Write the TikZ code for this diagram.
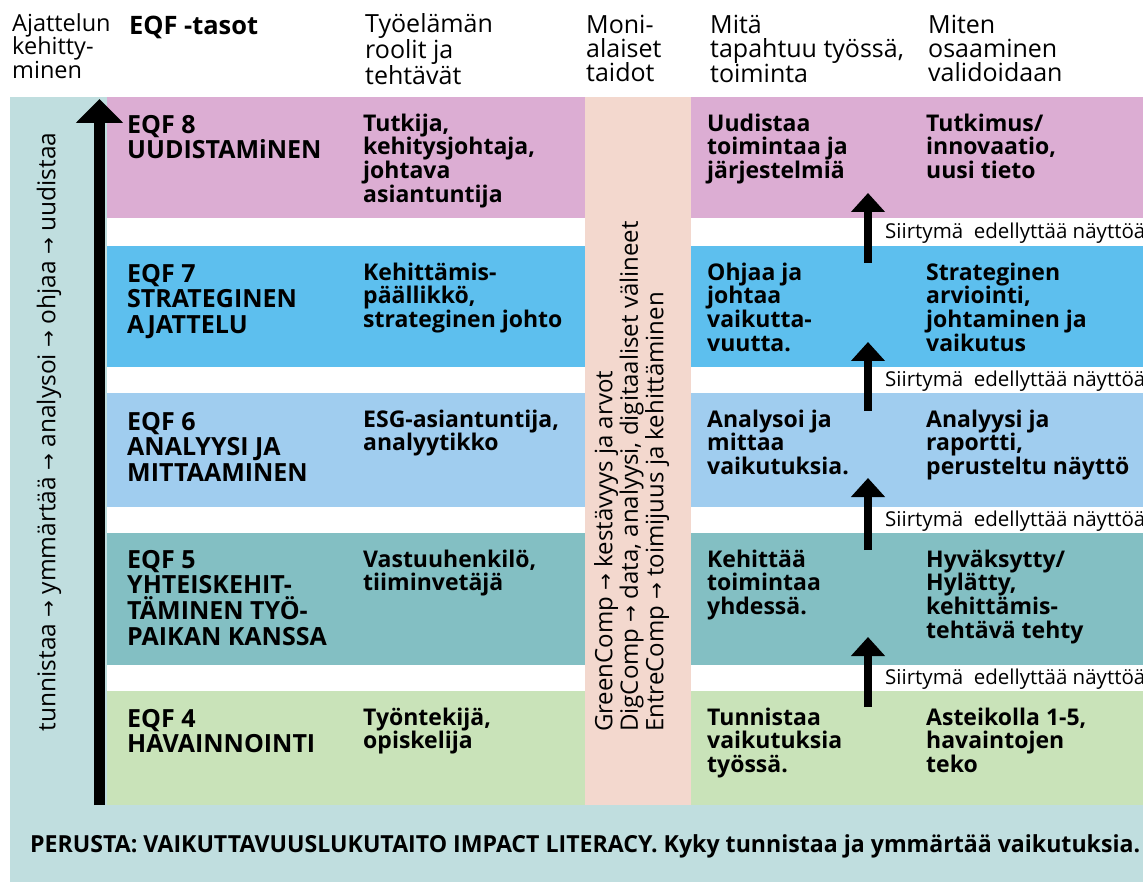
\documentclass[tikz,border=0pt]{standalone}
\usepackage{fontspec}
\setmainfont{Open Sans}
\newfontfamily\arrfont{DejaVu Sans}
\usetikzlibrary{arrows.meta}
\definecolor{tealbg}{HTML}{C0DEDF}
\definecolor{pinkb}{HTML}{DCADD3}
\definecolor{blueb}{HTML}{5DBFEE}
\definecolor{lblueb}{HTML}{A0CDEF}
\definecolor{tealb}{HTML}{83BFC3}
\definecolor{greenb}{HTML}{C9E3B9}
\definecolor{peachb}{HTML}{F3D8CE}
\newcommand\myarr{{\arrfont\fontsize{20}{20}\selectfont →}}
\newcommand\fl{\rule{0pt}{22pt}}
\tikzset{
  txt/.style={anchor=north west, yshift=22pt, inner sep=0pt, align=left},
  hdr/.style={txt, font=\fontsize{25}{24.2}\selectfont},
  eqf/.style={txt, font=\bfseries\fontsize{25}{25.7}\selectfont},
  body/.style={txt, font=\bfseries\fontsize{23}{23.7}\selectfont},
  trans/.style={anchor=base west, inner sep=0pt, font=\fontsize{20.5}{20.5}\selectfont},
  uparr/.style={line width=8pt, -{Triangle[length=19pt,width=33pt]}},
  mainarr/.style={line width=11pt, -{Triangle[length=24pt,width=46pt]}},
}
\begin{document}
\begin{tikzpicture}[x=1pt,y=-1pt]
\useasboundingbox (0,0) rectangle (1143,882);
\clip (0,0) rectangle (1143,882);
\fill[white] (0,0) rectangle (1143,882);
% background
\fill[tealbg] (10,97) rectangle (1143,882);
% bands
\fill[pinkb]  (107,97)  rectangle (1143,218);
\fill[white]  (107,218) rectangle (1143,246);
\fill[blueb]  (107,246) rectangle (1143,367);
\fill[white]  (107,367) rectangle (1143,393);
\fill[lblueb] (107,393) rectangle (1143,507);
\fill[white]  (107,507) rectangle (1143,533);
\fill[tealb]  (107,533) rectangle (1143,665);
\fill[white]  (107,665) rectangle (1143,691);
\fill[greenb] (107,691) rectangle (1143,805);
\fill[peachb] (585,97) rectangle (691,805);
% headers
\node[hdr, font=\fontsize{23.5}{23.5}\selectfont] (h1) at (12,31) {\fl Ajattelun\\kehitty-\\minen};
\node[hdr, font=\bfseries\fontsize{25.4}{25.4}\selectfont] (h2) at (129,34) {\fl EQF -tasot};
\node[hdr] (h3) at (365,32) {\fl Työelämän\\roolit ja\\tehtävät};
\node[hdr] (h4) at (586,33) {\fl Moni-\\alaiset\\taidot};
\node[hdr] (h5) at (710,33) {\fl Mitä\\tapahtuu työssä,\\toiminta};
\node[hdr] (h6) at (928,33) {\fl Miten\\osaaminen\\validoidaan};
% main arrow
\coordinate (ma0) at (99.5,805);
\coordinate (ma1) at (99.5,99);
\draw[mainarr] (ma0) -- (ma1);
% left vertical text
\node[rotate=90, inner sep=0pt, font=\fontsize{24.5}{24.5}\selectfont] (lv) at (49,432)
  {tunnistaa \myarr{} ymmärtää \myarr{} analysoi \myarr{} ohjaa \myarr{} uudistaa};
% middle vertical text
\node[rotate=90, anchor=north west, inner sep=0pt, align=left, font=\fontsize{24}{25.5}\selectfont] (mv) at (594,732)
  {GreenComp \myarr{} kestävyys ja arvot\\DigComp \myarr{} data, analyysi, digitaaliset välineet\\EntreComp \myarr{} toimijuus ja kehittäminen};
% EQF 8
\node[eqf]  (e8a) at (127,133) {\fl EQF 8\\UUDISTAMiNEN};
\node[body] (e8b) at (363,131) {\fl Tutkija,\\kehitysjohtaja,\\johtava\\asiantuntija};
\node[body] (e8c) at (707,131) {\fl Uudistaa\\toimintaa ja\\järjestelmiä};
\node[body] (e8d) at (926,131) {\fl Tutkimus/\\innovaatio,\\uusi tieto};
% EQF 7
\node[eqf]  (e7a) at (127,282) {\fl EQF 7\\STRATEGINEN\\AJATTELU};
\node[body] (e7b) at (363,280) {\fl Kehittämis-\\päällikkö,\\strateginen johto};
\node[body] (e7c) at (707,280) {\fl Ohjaa ja\\johtaa\\vaikutta-\\vuutta.};
\node[body] (e7d) at (926,280) {\fl Strateginen\\arviointi,\\johtaminen ja\\vaikutus};
% EQF 6
\node[eqf]  (e6a) at (127,430) {\fl EQF 6\\ANALYYSI JA\\MITTAAMINEN};
\node[body] (e6b) at (363,427) {\fl ESG-asiantuntija,\\analyytikko};
\node[body] (e6c) at (707,427) {\fl Analysoi ja\\mittaa\\vaikutuksia.};
\node[body] (e6d) at (926,427) {\fl Analyysi ja\\raportti,\\perusteltu näyttö};
% EQF 5
\node[eqf]  (e5a) at (127,568) {\fl EQF 5\\YHTEISKEHIT-\\TÄMINEN TYÖ-\\PAIKAN KANSSA};
\node[body] (e5b) at (363,567) {\fl Vastuuhenkilö,\\tiiminvetäjä};
\node[body] (e5c) at (707,567) {\fl Kehittää\\toimintaa\\yhdessä.};
\node[body] (e5d) at (926,567) {\fl Hyväksytty/\\Hylätty,\\kehittämis-\\tehtävä tehty};
% EQF 4
\node[eqf]  (e4a) at (127,727) {\fl EQF 4\\HAVAINNOINTI};
\node[body] (e4b) at (363,725) {\fl Työntekijä,\\opiskelija};
\node[body] (e4c) at (707,725) {\fl Tunnistaa\\vaikutuksia\\työssä.};
\node[body] (e4d) at (926,725) {\fl Asteikolla 1-5,\\havaintojen\\teko};
% transitions
\node[trans] (t1) at (885,239) {Siirtymä\ \ edellyttää näyttöä};
\node[trans] (t2) at (885,386) {Siirtymä\ \ edellyttää näyttöä};
\node[trans] (t3) at (885,526) {Siirtymä\ \ edellyttää näyttöä};
\node[trans] (t4) at (885,684) {Siirtymä\ \ edellyttää näyttöä};
\coordinate (a1s) at (868,263); \coordinate (a1e) at (868,193);
\coordinate (a2s) at (868,411); \coordinate (a2e) at (868,342);
\coordinate (a3s) at (868,550); \coordinate (a3e) at (868,478);
\coordinate (a4s) at (868,707); \coordinate (a4e) at (868,637);
\draw[uparr] (a1s) -- (a1e);
\draw[uparr] (a2s) -- (a2e);
\draw[uparr] (a3s) -- (a3e);
\draw[uparr] (a4s) -- (a4e);
% bottom
\node[anchor=base west, inner sep=0pt] (base) at (30,852)
  {\resizebox{1110pt}{\height}{\bfseries\fontsize{23.5}{23.5}\selectfont PERUSTA: VAIKUTTAVUUSLUKUTAITO IMPACT LITERACY. Kyky tunnistaa ja ymmärtää vaikutuksia.}};
\end{tikzpicture}
\end{document}
